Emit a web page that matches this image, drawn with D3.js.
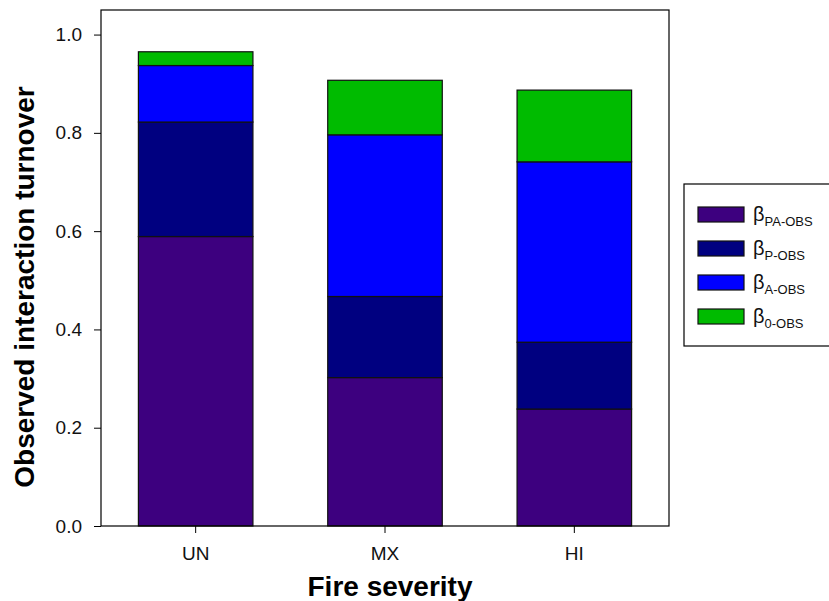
<!DOCTYPE html>
<html>
<head>
<meta charset="utf-8">
<script src="https://cdn.jsdelivr.net/npm/d3@7"></script>
<style>
  body { margin: 0; background: #fff; }
  text { font-family: "Liberation Sans", Arial, sans-serif; }
</style>
</head>
<body>
<div id="wrapper"></div>
<script>
  /* DATA */
  const severities = ['UN', 'MX', 'HI']
  const components = ['PA', 'P', 'A', '0']
  const betaPA = [0.589, 0.302, 0.238]
  const betaP = [0.233, 0.165, 0.136]
  const betaA = [0.115, 0.329, 0.367]
  const beta0 = [0.028, 0.111, 0.146]
  const yTicks = [0, 0.2, 0.4, 0.6, 0.8, 1.0]
  const colors = ['#3d007f', '#000080', '#0000ff', '#00bb00']

  const rows = severities.map((s, i) => ({
    severity: s,
    PA: betaPA[i],
    P: betaP[i],
    A: betaA[i],
    '0': beta0[i]
  }))

  /* CHART DIMENSIONS */
  const dimensions = {
    width: 829,
    height: 601,
    margin: { top: 10, right: 160, bottom: 75, left: 101 }
  }
  dimensions.boundedWidth = dimensions.width - dimensions.margin.left - dimensions.margin.right
  dimensions.boundedHeight = dimensions.height - dimensions.margin.top - dimensions.margin.bottom

  /* SCALES */
  const xScale = d3.scaleBand()
    .domain(severities)
    .range([0, dimensions.boundedWidth])
    .paddingInner(0.395)
    .paddingOuter(0.1975)

  const yScale = d3.scaleLinear()
    .domain([0, 1.05])
    .range([dimensions.boundedHeight, 0])

  const stack = d3.stack().keys(components)
  const series = stack(rows)

  /* DRAW */
  const svg = d3.select('#wrapper')
    .append('svg')
    .attr('width', dimensions.width)
    .attr('height', dimensions.height)

  const bounds = svg.append('g')
    .attr('transform', `translate(${dimensions.margin.left},${dimensions.margin.top})`)

  bounds.append('g')
    .selectAll('g')
    .data(series)
    .join('g')
    .attr('fill', (d, i) => colors[i])
    .selectAll('rect')
    .data(d => d)
    .join('rect')
    .attr('x', d => xScale(d.data.severity))
    .attr('width', xScale.bandwidth())
    .attr('y', d => yScale(d[1]))
    .attr('height', d => yScale(d[0]) - yScale(d[1]))
    .attr('stroke', '#111')
    .attr('stroke-width', 1.2)

  // frame
  bounds.append('rect')
    .attr('width', dimensions.boundedWidth)
    .attr('height', dimensions.boundedHeight)
    .attr('fill', 'none')
    .attr('stroke', '#000')
    .attr('stroke-width', 1.2)

  /* AXES */
  const yAxis = bounds.append('g')
    .call(d3.axisLeft(yScale).tickValues(yTicks).tickFormat(d3.format('.1f')).tickSize(7).tickSizeOuter(0))
  yAxis.select('.domain').remove()
  yAxis.selectAll('text').attr('font-size', 19).attr('fill', '#111').attr('x', -19)

  const xAxis = bounds.append('g')
    .attr('transform', `translate(0,${dimensions.boundedHeight})`)
    .call(d3.axisBottom(xScale).tickSize(7).tickSizeOuter(0))
  xAxis.select('.domain').remove()
  xAxis.selectAll('text').attr('font-size', 19).attr('fill', '#111').attr('y', 21)

  svg.append('text')
    .attr('transform', 'translate(34,287) rotate(-90)')
    .attr('text-anchor', 'middle')
    .attr('font-size', 28)
    .attr('font-weight', 'bold')
    .text('Observed interaction turnover')

  svg.append('text')
    .attr('x', 390)
    .attr('y', 596)
    .attr('text-anchor', 'middle')
    .attr('font-size', 28)
    .attr('font-weight', 'bold')
    .text('Fire severity')

  /* LEGEND */
  const legend = svg.append('g').attr('transform', 'translate(684,184)')
  legend.append('rect')
    .attr('width', 160)
    .attr('height', 162)
    .attr('fill', '#fff')
    .attr('stroke', '#000')
    .attr('stroke-width', 1.2)

  const items = legend.selectAll('g.item')
    .data(components)
    .join('g')
    .attr('class', 'item')
    .attr('transform', (d, i) => `translate(14,${23 + i * 34})`)

  items.append('rect')
    .attr('width', 46)
    .attr('height', 15)
    .attr('fill', (d, i) => colors[i])
    .attr('stroke', '#111')
    .attr('stroke-width', 1.2)

  const label = items.append('text')
    .attr('x', 55)
    .attr('y', 14)
    .attr('fill', '#111')
  label.append('tspan')
    .attr('font-size', 20)
    .text('β')
  label.append('tspan')
    .attr('font-size', 13)
    .attr('dy', 5)
    .text(d => `${d}-OBS`)
</script>
</body>
</html>
